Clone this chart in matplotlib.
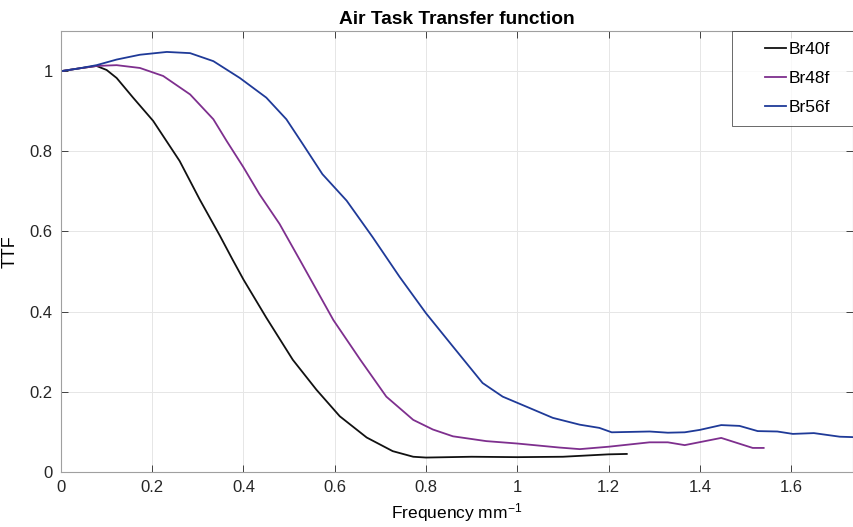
import numpy as np
from matplotlib import pyplot as plt

plt.rcParams['font.family'] = ['Liberation Sans', 'DejaVu Sans']
plt.rcParams['mathtext.default'] = 'regular'

# Br40f
x40 = [0, 0.04, 0.078, 0.1, 0.122, 0.158, 0.202, 0.26, 0.304, 0.348, 0.376, 0.4,
       0.45, 0.508, 0.56, 0.611, 0.67, 0.727, 0.772, 0.8, 0.9, 1.0, 1.1, 1.2, 1.24]
y40 = [1.0, 1.007, 1.013, 1.003, 0.983, 0.934, 0.876, 0.776, 0.68, 0.59, 0.53, 0.48,
       0.385, 0.28, 0.205, 0.139, 0.086, 0.052, 0.038, 0.036, 0.038, 0.037, 0.038, 0.044, 0.045]

# Br48f
x48 = [0, 0.04, 0.078, 0.122, 0.173, 0.224, 0.283, 0.334, 0.363, 0.4, 0.435, 0.479,
       0.524, 0.597, 0.656, 0.713, 0.772, 0.815, 0.859, 0.932, 1.0, 1.092, 1.137, 1.2,
       1.29, 1.33, 1.367, 1.447, 1.516, 1.54]
y48 = [1.0, 1.007, 1.013, 1.015, 1.008, 0.988, 0.942, 0.88, 0.826, 0.76, 0.693, 0.619,
       0.528, 0.379, 0.28, 0.188, 0.13, 0.106, 0.089, 0.077, 0.071, 0.061, 0.057, 0.063,
       0.074, 0.074, 0.067, 0.085, 0.06, 0.06]

# Br56f
x56 = [0, 0.04, 0.078, 0.122, 0.173, 0.232, 0.283, 0.334, 0.392, 0.45, 0.494, 0.53,
       0.573, 0.626, 0.683, 0.742, 0.8, 0.859, 0.924, 0.968, 1.02, 1.078, 1.137, 1.18,
       1.207, 1.29, 1.33, 1.367, 1.4, 1.447, 1.487, 1.527, 1.57, 1.604, 1.65, 1.707, 1.735]
y56 = [1.0, 1.007, 1.015, 1.029, 1.041, 1.048, 1.045, 1.025, 0.983, 0.934, 0.88, 0.818,
       0.743, 0.677, 0.586, 0.487, 0.396, 0.313, 0.222, 0.188, 0.163, 0.135, 0.118, 0.11,
       0.099, 0.101, 0.098, 0.099, 0.105, 0.117, 0.115, 0.102, 0.101, 0.095, 0.097, 0.088, 0.087]

series = [('Br40f', x40, y40, '#111111'),
          ('Br48f', x48, y48, '#7E2F8E'),
          ('Br56f', x56, y56, '#1F3A98')]

fig = plt.figure(figsize=(8.54, 5.27), dpi=100)
ax = fig.add_axes([0.0714, 0.1044, 0.927, 0.8366])

for name, xs, ys, col in series:
    ax.plot(xs, ys, color=col, lw=1.3, label=name)

ax.set_xlim(0, 1.735)
ax.set_ylim(0, 1.1)
ax.set_xticks(np.arange(0, 1.7, 0.2))
ax.set_xticklabels(['0', '0.2', '0.4', '0.6', '0.8', '1', '1.2', '1.4', '1.6'])
ax.set_yticks(np.arange(0, 1.1, 0.2))
ax.set_yticklabels(['0', '0.2', '0.4', '0.6', '0.8', '1'])
ax.tick_params(direction='in', top=True, right=True, labelsize=12, colors='#262626',
               length=5, width=0.6, pad=6)
for sp in ax.spines.values():
    sp.set_color('#a0a0a0')
    sp.set_linewidth(0.8)
ax.grid(True, color='#e6e6e6', lw=0.7)

ax.set_title('Air Task Transfer function', fontsize=13.8, fontweight='bold', pad=5)
ax.set_xlabel('Frequency mm$^{-1}$', fontsize=12.5, labelpad=4)
ax.set_ylabel('TTF', fontsize=13, labelpad=8)

# legend box spans from x=733px to the right edge, as in the MATLAB figure
leg = ax.legend(loc='upper right', bbox_to_anchor=(0.848, 0, 0.152, 1.0), mode='expand',
                fontsize=12.5, borderaxespad=0, fancybox=False,
                handlelength=2.5, handletextpad=0.15, borderpad=0.62, labelspacing=0.81)
leg.get_frame().set_edgecolor('#262626')
leg.get_frame().set_linewidth(0.6)
# short handle lines sitting to the right of the handle area
for ln in leg.get_lines():
    xd = np.asarray(ln.get_xdata(), dtype=float)
    ln.set_xdata(np.linspace(xd[0] + 0.5 * (xd[-1] - xd[0]), xd[-1], len(xd)))

fig.savefig('out.png', dpi=100)
